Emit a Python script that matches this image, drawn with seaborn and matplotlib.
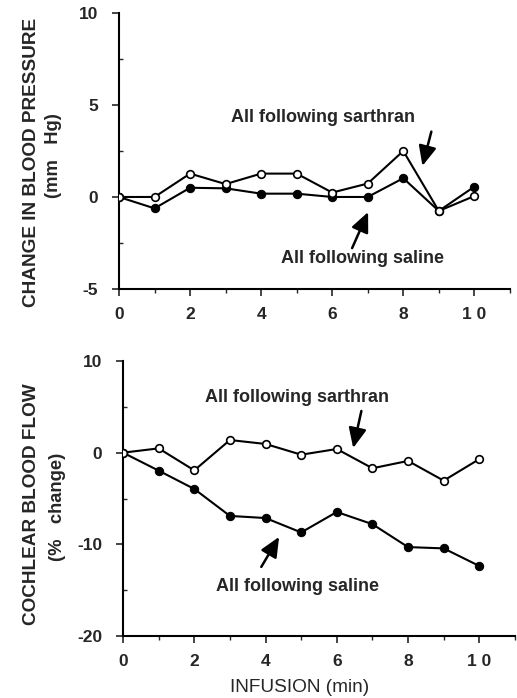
import matplotlib
matplotlib.use("Agg")
import matplotlib.pyplot as plt
import seaborn as sns
import pandas as pd
import numpy as np

minutes = [0, 1, 2, 3, 4, 5, 6, 7, 8, 9, 10]
bp_sarthran = [0, 0.0, 1.27, 0.7, 1.27, 1.27, 0.24, 0.73, 2.5, -0.76, 0.05]
bp_saline = [0, -0.62, 0.5, 0.47, 0.18, 0.18, 0.0, 0.0, 1.02, -0.76, 0.56]
cbf_sarthran = [0, 0.47, -1.93, 1.38, 0.95, -0.22, 0.4, -1.7, -0.9, -3.05, -0.7]
cbf_saline = [0, -1.96, -3.96, -6.9, -7.13, -8.7, -6.47, -7.8, -10.3, -10.44, -12.36]
x_ticks = [0, 2, 4, 6, 8, 10]
x_tick_labels = ["0", "2", "4", "6", "8", "1 0"]
bp_ticks = [-5, 0, 5, 10]
cbf_ticks = [-20, -10, 0, 10]

sns.set_theme(style="ticks")
plt.rcParams['font.family'] = ['Liberation Sans', 'DejaVu Sans']

FS_ANN = 13
FS_TICK = 12.5
FS_LAB = 13.7
fig = plt.figure(figsize=(5.17, 6.98), dpi=100)
ax1 = fig.add_axes([0.2302, 0.586, 0.756, 0.3954])
ax2 = fig.add_axes([0.238, 0.0888, 0.758, 0.394])

def draw(ax, sar, sal):
    df = pd.DataFrame({"min": minutes, "sar": sar, "sal": sal})
    sns.lineplot(data=df, x="min", y="sar", ax=ax, color="black", lw=1.5,
                 marker="o", markersize=5.5, markerfacecolor="white",
                 markeredgecolor="black", markeredgewidth=1.2, zorder=3)
    sns.lineplot(data=df, x="min", y="sal", ax=ax, color="black", lw=1.5,
                 marker="o", markersize=6, markerfacecolor="black",
                 markeredgecolor="black", zorder=2)
    ax.set_xlim(0, 11)
    ax.set_xticks(x_ticks)
    ax.set_xticklabels(x_tick_labels, fontsize=FS_TICK, fontweight="bold")
    ax.set_xticks([1, 3, 5, 7, 9, 11], minor=True)
    ax.tick_params(axis="x", which="major", direction="out", length=5, width=1.2, pad=8)
    ax.tick_params(axis="x", which="minor", direction="out", length=3, width=1)
    ax.tick_params(axis="y", which="major", direction="out", length=5, width=1.2, pad=10)
    ax.tick_params(axis="y", which="minor", direction="in", length=3, width=1)
    for s in ["top", "right"]:
        ax.spines[s].set_visible(False)
    for s in ["left", "bottom"]:
        ax.spines[s].set_linewidth(1.5)
        ax.spines[s].set_color("black")
    ax.set_xlabel("")
    ax.set_ylabel("")

draw(ax1, bp_sarthran, bp_saline)
ax1.set_ylim(-5, 10)
ax1.set_yticks(bp_ticks)
ax1.set_yticklabels([str(t) for t in bp_ticks], fontsize=FS_TICK, fontweight="bold")
ax1.set_yticks([-2.5, 2.5, 7.5], minor=True)

draw(ax2, cbf_sarthran, cbf_saline)
ax2.set_ylim(-20, 10)
ax2.set_yticks(cbf_ticks)
ax2.set_yticklabels([str(t) for t in cbf_ticks], fontsize=FS_TICK, fontweight="bold")
ax2.set_yticks([-15, -5, 5], minor=True)

arrowprops = dict(arrowstyle="-|>,head_length=1.0,head_width=0.45", color="black", lw=1.8,
                  shrinkA=0, shrinkB=0)
# top annotations
ax1.text(5.75, 4.31, "All following sarthran", ha="center", va="center", fontsize=FS_ANN, fontweight="bold")
ax1.annotate("", xy=(8.54, 1.69), xytext=(8.79, 3.55), arrowprops=arrowprops)
ax1.text(6.85, -3.33, "All following saline", ha="center", va="center", fontsize=FS_ANN, fontweight="bold")
ax1.annotate("", xy=(7.01, -0.82), xytext=(6.56, -2.78), arrowprops=arrowprops)
# bottom annotations
ax2.text(4.89, 6.07, "All following sarthran", ha="center", va="center", fontsize=FS_ANN, fontweight="bold")
ax2.annotate("", xy=(6.46, 0.51), xytext=(6.69, 4.55), arrowprops=arrowprops)
ax2.text(4.89, -14.65, "All following saline", ha="center", va="center", fontsize=FS_ANN, fontweight="bold")
ax2.annotate("", xy=(4.38, -9.19), xytext=(3.88, -12.46), arrowprops=arrowprops)

# y labels
fig.text(32 / 517, 1 - 162 / 698, "CHANGE IN BLOOD PRESSURE", rotation=90, ha="center", va="center",
         fontsize=FS_LAB, fontweight="bold")
fig.text(54 / 517, 1 - 156 / 698, "(mm   Hg)", rotation=90, ha="center", va="center",
         fontsize=FS_LAB - 0.5, fontweight="bold")
fig.text(32 / 517, 1 - 504 / 698, "COCHLEAR BLOOD FLOW", rotation=90, ha="center", va="center",
         fontsize=FS_LAB, fontweight="bold")
fig.text(58 / 517, 1 - 507 / 698, "(%   change)", rotation=90, ha="center", va="center",
         fontsize=FS_LAB - 0.5, fontweight="bold")
fig.text(300 / 517, 1 - 687 / 698, "INFUSION (min)", ha="center", va="center", fontsize=FS_LAB)

fig.savefig("out.png", dpi=100, facecolor="white")
